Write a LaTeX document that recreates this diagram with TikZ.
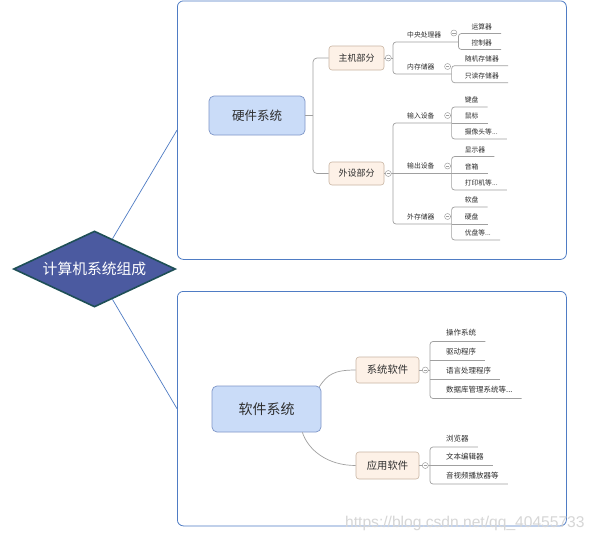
\documentclass[tikz,border=0pt]{standalone}
\usepackage{fontspec}
\setmainfont{Noto Sans CJK SC}
\newfontfamily\wmfont{Liberation Sans}
\usetikzlibrary{shapes.geometric,calc}
\definecolor{boxblue}{HTML}{4F7CC4}
\definecolor{mainfill}{HTML}{CADCF8}
\definecolor{maindraw}{HTML}{7F96C8}
\definecolor{subfill}{HTML}{FDF1E7}
\definecolor{subdraw}{HTML}{C9B5A3}
\definecolor{linegray}{HTML}{A0A0A0}
\definecolor{txt}{HTML}{2E2E2E}
\definecolor{diafill}{HTML}{4B5AA0}
\definecolor{diadraw}{HTML}{1E4F56}
\definecolor{wmgray}{HTML}{D6D6D6}
\begin{document}
\begin{tikzpicture}[x=1pt,y=-1pt,
  container/.style={draw=boxblue, line width=0.8pt, rounded corners=6pt, anchor=north west, inner sep=0pt},
  link/.style={draw=boxblue, line width=0.7pt},
  mainnode/.style={draw=maindraw, fill=mainfill, line width=0.7pt, rounded corners=5pt, text=txt, inner sep=0pt},
  subnode/.style={draw=subdraw, fill=subfill, line width=0.6pt, rounded corners=3pt, text=txt, inner sep=0pt},
  conn/.style={draw=linegray, line width=0.7pt},
  hwmid/.style={inner xsep=0pt, inner ysep=0pt, text height=5.5pt, text depth=4.6pt, anchor=south west,
     font=\fontsize{6.8}{8}\selectfont, text=txt,
     execute at begin node={\hspace*{14pt}}, execute at end node={\hspace*{17pt}}},
  hwleaf/.style={inner xsep=0pt, inner ysep=0pt, text height=5.5pt, text depth=4.2pt, anchor=south west,
     font=\fontsize{6.8}{8}\selectfont, text=txt,
     execute at begin node={\hspace*{13pt}}, execute at end node={\hspace*{9pt}}},
  swleaf/.style={inner xsep=0pt, inner ysep=0pt, text height=6pt, text depth=5.4pt, anchor=south west,
     font=\fontsize{7.5}{9}\selectfont, text=txt,
     execute at begin node={\hspace*{16pt}}, execute at end node={\hspace*{9pt}}},
  fold/.style={circle, draw=linegray, fill=white, inner sep=0pt, minimum size=6pt, line width=0.5pt,
     path picture={\draw[linegray, line width=0.5pt]
       ($(path picture bounding box.west)+(1.4,0)$) -- ($(path picture bounding box.east)+(-1.4,0)$);}}
]
\useasboundingbox (0,0) rectangle (598,539);
\fill[white] (0,0) rectangle (598,539);

% containers
\node[container, minimum width=389pt, minimum height=258.5pt] (hwbox) at (177,0.5) {};
\node[container, minimum width=389pt, minimum height=234.5pt] (swbox) at (177,291) {};

% root diamond
\node[diamond, aspect=2.13, minimum width=162pt, minimum height=76pt, inner sep=0pt,
      fill=diafill, draw=diadraw, line width=1.6pt, text=white,
      font=\fontsize{14.8}{17}\selectfont] (root) at (94.5,269) {计算机系统组成};
\draw[link] (root) -- (hwbox.west);
\draw[link] (root) -- (swbox.west);

% ---------- hardware ----------
\node[mainnode, minimum width=96pt, minimum height=39pt, font=\fontsize{12.5}{15}\selectfont] (hw) at (257,115.5) {硬件系统};
\node[subnode, minimum width=55pt, minimum height=24pt, font=\fontsize{9}{11}\selectfont] (host) at (356.5,58) {主机部分};
\node[subnode, minimum width=55pt, minimum height=23pt, font=\fontsize{9}{11}\selectfont] (peri) at (356.5,173.5) {外设部分};
\coordinate (hb) at (313,115.5);
\draw[conn] (hw.east) -- (hw.east -| hb);
\draw[conn, rounded corners=4pt] (host.west) -- (host.west -| hb) -- (peri.west -| hb) -- (peri.west);

% level 2
\node[hwmid] (cpu) at (393,42) {中央处理器};
\node[hwmid] (mem) at (393,74) {内存储器};
\node[hwmid] (inp) at (393,123) {输入设备};
\node[hwmid] (outp) at (393,173.5) {输出设备};
\node[hwmid] (ext) at (393,224) {外存储器};
\draw[conn] (host.east) -- (host.east -| cpu.south west);
\draw[conn, rounded corners=3pt] (cpu.south east) -- (cpu.south west) -- (mem.south west) -- (mem.south east);
\draw[conn] (peri.east) -- (peri.east -| inp.south west);
\draw[conn, rounded corners=3pt] (inp.south east) -- (inp.south west) -- (ext.south west) -- (ext.south east);
\draw[conn] (outp.south west) -- (outp.south east);

% level 3
\node[hwleaf] (alu) at ($(cpu.south east)+(0,-8.5)$) {运算器};
\node[hwleaf] (ctl) at ($(cpu.south east)+(0,7.5)$) {控制器};
\draw[conn, rounded corners=3pt] (alu.south east) -- (alu.south west) -- (ctl.south west) -- (ctl.south east);

\node[hwleaf] (ram) at ($(mem.south east)+(0,-8.3)$) {随机存储器};
\node[hwleaf] (rom) at ($(mem.south east)+(0,8.7)$) {只读存储器};
\draw[conn, rounded corners=3pt] (ram.south east) -- (ram.south west) -- (rom.south west) -- (rom.south east);

\node[hwleaf] (kbd) at ($(inp.south east)+(0,-16)$) {键盘};
\node[hwleaf] (mouse) at ($(inp.south east)+(0,0)$) {鼠标};
\node[hwleaf] (cam) at ($(inp.south east)+(0,16)$) {摄像头等...};
\draw[conn, rounded corners=3pt] (kbd.south east) -- (kbd.south west) -- (cam.south west) -- (cam.south east);
\draw[conn] (mouse.south west) -- (mouse.south east);

\node[hwleaf] (disp) at ($(outp.south east)+(0,-17)$) {显示器};
\node[hwleaf] (spk) at ($(outp.south east)+(0,0)$) {音箱};
\node[hwleaf] (prn) at ($(outp.south east)+(0,16.5)$) {打印机等...};
\draw[conn, rounded corners=3pt] (disp.south east) -- (disp.south west) -- (prn.south west) -- (prn.south east);
\draw[conn] (spk.south west) -- (spk.south east);

\node[hwleaf] (fdd) at ($(ext.south east)+(0,-17)$) {软盘};
\node[hwleaf] (hdd) at ($(ext.south east)+(0,0)$) {硬盘};
\node[hwleaf] (usb) at ($(ext.south east)+(0,16)$) {优盘等...};
\draw[conn, rounded corners=3pt] (fdd.south east) -- (fdd.south west) -- (usb.south west) -- (usb.south east);
\draw[conn] (hdd.south west) -- (hdd.south east);

% fold markers (hardware)
\node[fold] (f1) at ($(host.east)+(4,0)$) {};
\node[fold] (f2) at ($(peri.east)+(4,0)$) {};
\node[fold] (f3) at ($(cpu.south east)+(-4.5,-9)$) {};
\node[fold] (f4) at ($(mem.south east)+(-4,-7.5)$) {};
\node[fold] (f5) at ($(inp.south east)+(-4,-7.5)$) {};
\node[fold] (f6) at ($(outp.south east)+(-4,-7.5)$) {};
\node[fold] (f7) at ($(ext.south east)+(-4,-7.5)$) {};

% ---------- software ----------
\node[mainnode, minimum width=109pt, minimum height=46pt, font=\fontsize{14}{17}\selectfont] (sw) at (266.5,409) {软件系统};
\node[subnode, minimum width=63pt, minimum height=26pt, font=\fontsize{10.3}{12}\selectfont] (sys) at (387.5,370) {系统软件};
\node[subnode, minimum width=63pt, minimum height=27pt, font=\fontsize{10.3}{12}\selectfont] (app) at (387.5,465.5) {应用软件};
\draw[conn] ($(sw.north east)+(-2,1)$) .. controls +(8,-12) and +(-22,0) .. (sys.west);
\draw[conn] ($(sw.south east)+(-19,0)$) .. controls +(6,18) and +(-28,0) .. (app.west);

\coordinate (sb) at (430,370);
\draw[conn] (sys.east) -- (sys.east -| sb);
\draw[conn] (app.east) -- (app.east -| sb);

\node[swleaf] (os) at ($(sys.east -| sb)+(0,-28.5)$) {操作系统};
\node[swleaf] (drv) at ($(sys.east -| sb)+(0,-9.5)$) {驱动程序};
\node[swleaf] (lang) at ($(sys.east -| sb)+(0,9.5)$) {语言处理程序};
\node[swleaf] (dbms) at ($(sys.east -| sb)+(0,28.5)$) {数据库管理系统等...};
\draw[conn, rounded corners=3pt] (os.south east) -- (os.south west) -- (dbms.south west) -- (dbms.south east);
\draw[conn] (drv.south west) -- (drv.south east);
\draw[conn] (lang.south west) -- (lang.south east);

\node[swleaf] (web) at ($(app.east -| sb)+(0,-18.5)$) {浏览器};
\node[swleaf] (edit) at ($(app.east -| sb)+(0,0)$) {文本编辑器};
\node[swleaf] (media) at ($(app.east -| sb)+(0,18.5)$) {音视频播放器等};
\draw[conn, rounded corners=3pt] (web.south east) -- (web.south west) -- (media.south west) -- (media.south east);
\draw[conn] (edit.south west) -- (edit.south east);

\node[fold] (f8) at ($(sys.east)+(6,0)$) {};
\node[fold] (f9) at ($(app.east)+(6,0)$) {};

% watermark
\node[anchor=base west, inner sep=0pt, text=wmgray, font=\wmfont\fontsize{15.6}{17}\selectfont] (wm) at (345,527) {https://blog.csdn.net/qq\_40455733};
\end{tikzpicture}
\end{document}
